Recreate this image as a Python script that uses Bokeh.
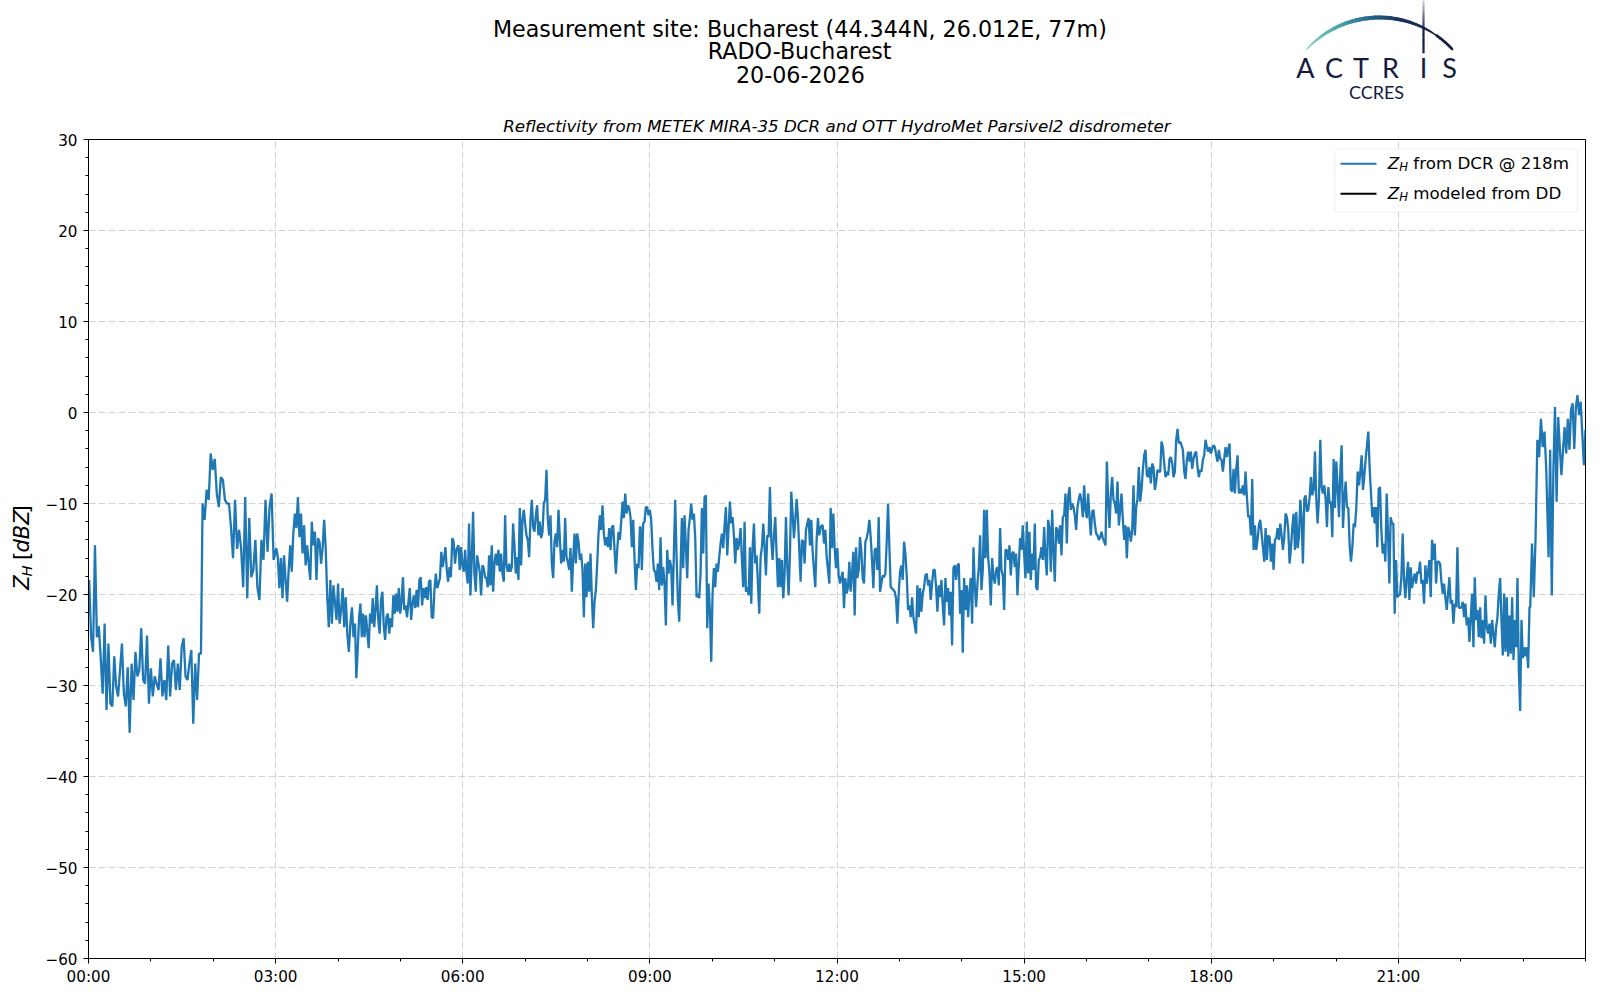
import math
import numpy as np
from bokeh.plotting import figure
from bokeh.models import Range1d, FixedTicker, Label, BoxAnnotation, Title
from bokeh.layouts import column, row
from bokeh.embed import file_html
from bokeh.resources import INLINE
from bokeh.core.properties import value

# ---------------- data (hours since 00:00 UTC, reflectivity dBZ) ----------------
# each block: (start hour, end hour), readings equally spaced inside the block
seg_a1_t = (0.011, 1.803)
seg_a1 = [-18.4, -24.7, -26.3, -14.6, -24.7, -23.5, -27.0, -30.9, -23.2, -32.7,
          -25.4, -32.0, -32.3, -26.8, -30.1, -31.2, -28.3, -25.4, -30.9, -32.3,
          -28.0, -35.2, -27.6, -31.6, -26.3, -29.0, -28.3, -23.7, -29.4, -29.8,
          -24.5, -32.0, -28.1, -31.2, -29.0, -29.8, -30.5, -27.0, -31.2, -29.4,
          -31.6, -25.6, -31.2, -27.6, -27.2, -30.5, -27.6, -30.5, -25.8, -24.8,
          -29.0, -29.4, -27.6, -26.1, -34.2, -27.6, -31.6, -26.5, -26.5]
seg_a2_t = (1.829, 2.968)
seg_a2 = [-10.0, -11.8, -8.5, -9.6, -4.5, -6.3, -5.1, -8.9, -10.4, -7.1,
          -7.4, -9.6, -10.0, -10.0, -12.6, -16.0, -9.6, -15.0, -12.9, -15.0,
          -19.2, -9.3, -20.4, -11.6, -18.1, -17.3, -14.0, -19.2, -20.6, -14.0,
          -16.2, -9.6, -15.3, -10.4, -8.9, -16.2]
seg_b1_t = (3.011, 4.273)
seg_b1 = [-14.9, -15.9, -19.3, -16.0, -20.4, -15.7, -18.4, -20.8, -17.3, -14.6,
          -17.5, -13.3, -11.1, -12.7, -9.3, -13.7, -11.1, -15.5, -12.4, -16.8,
          -14.6, -16.6, -18.4, -12.0, -14.6, -13.1, -18.4, -13.8, -14.2, -16.6,
          -14.9, -11.8, -14.9, -20.3, -23.6, -18.4, -23.2, -19.0, -20.8, -22.8,
          -18.8, -23.2, -21.7, -19.3, -23.6, -20.3, -24.3, -26.3, -23.2, -21.4,
          -24.7, -23.2]
seg_b2_t = (4.294, 5.898)
seg_b2 = [-29.2, -26.1, -22.5, -21.0, -24.7, -22.1, -24.7, -22.3, -24.1, -25.9,
          -22.1, -23.2, -20.4, -23.6, -21.7, -19.0, -22.8, -24.3, -20.6, -19.7,
          -23.4, -25.0, -22.5, -22.1, -24.3, -22.6, -23.6, -20.1, -22.1, -19.9,
          -21.9, -19.3, -22.1, -20.8, -18.1, -21.7, -21.2, -22.5, -20.8, -19.3,
          -22.8, -21.0, -20.1, -21.5, -19.5, -21.4, -18.4, -18.1, -21.2, -19.3,
          -20.4, -19.2, -20.6, -18.6, -18.4, -22.5, -22.6, -19.5, -17.7, -19.3,
          -18.8, -18.2, -15.3, -17.0, -16.0, -14.8, -17.3, -18.6, -17.0, -18.1,
          -13.8, -14.2, -16.6, -15.1]
seg_c_t = (5.909, 8.840)
seg_c = [-14.9, -14.6, -17.3, -14.8, -16.8, -17.5, -15.1, -17.5, -18.8, -12.2,
         -20.1, -16.2, -10.9, -17.7, -19.7, -15.7, -16.6, -17.5, -20.1, -16.8,
         -17.1, -18.1, -18.2, -19.2, -15.7, -19.0, -14.6, -19.7, -16.6, -15.5,
         -16.8, -15.1, -17.5, -15.5, -17.7, -18.6, -11.3, -16.8, -17.5, -16.6,
         -17.5, -17.0, -12.2, -14.6, -17.7, -15.9, -18.4, -10.5, -16.8, -11.8,
         -10.7, -12.2, -13.5, -14.0, -15.9, -11.8, -9.6, -12.6, -13.1, -11.3,
         -10.2, -13.5, -12.0, -13.8, -13.1, -10.0, -9.6, -6.3, -11.8, -13.5,
         -11.3, -16.6, -18.2, -14.2, -13.3, -14.8, -10.7, -13.8, -16.6, -15.1,
         -16.4, -11.6, -15.9, -16.4, -17.3, -14.9, -19.7, -16.2, -13.3, -16.6,
         -13.3, -14.2, -16.2, -15.5, -17.3, -22.5, -16.6, -20.3, -16.4, -19.7,
         -15.5, -20.3, -23.7, -20.8, -19.5, -16.6, -13.3, -11.3, -12.9, -10.2,
         -13.3, -14.6, -13.7, -14.8, -12.7, -15.1, -12.6, -12.4, -15.1, -17.7,
         -15.1, -13.1, -14.0, -12.0, -9.8, -11.6, -8.9, -11.1, -10.2, -10.5,
         -11.5, -14.8, -11.8, -16.2, -19.5, -16.6, -17.1, -12.6]
seg_d_t = (8.850, 11.759)
seg_d = [-12.6, -17.3, -12.2, -12.0, -10.4, -10.4, -11.3, -10.7, -11.8, -15.1,
         -17.3, -17.5, -18.6, -16.6, -19.5, -13.7, -19.0, -17.0, -18.8, -23.4,
         -15.1, -17.7, -16.2, -17.0, -21.2, -15.5, -9.6, -15.7, -20.6, -23.0,
         -17.3, -11.6, -17.1, -11.3, -14.6, -18.2, -12.9, -11.6, -10.0, -11.8,
         -11.1, -13.7, -20.3, -19.9, -20.4, -17.7, -10.5, -15.5, -9.3, -9.1,
         -23.7, -18.8, -21.7, -27.4, -19.9, -17.1, -19.2, -16.6, -17.5, -15.9,
         -14.4, -13.3, -14.9, -12.4, -10.4, -15.7, -12.7, -9.8, -12.2, -11.5,
         -13.5, -16.6, -13.8, -15.1, -14.2, -12.7, -16.2, -19.2, -12.0, -19.7,
         -19.2, -20.1, -14.8, -21.0, -14.9, -12.2, -16.6, -15.7, -18.8, -22.1,
         -15.9, -14.8, -12.2, -14.8, -17.9, -13.5, -13.7, -8.2, -14.0, -16.2,
         -13.5, -11.5, -15.5, -19.2, -16.0, -19.2, -16.2, -20.4, -17.7, -11.5,
         -16.8, -20.1, -15.5, -8.7, -11.1, -13.8, -11.8, -9.5, -11.6, -15.1,
         -18.6, -14.0, -14.2, -16.6, -12.9, -12.2, -11.6, -14.6, -11.8, -15.3,
         -17.3, -19.2, -14.0, -11.6, -13.5, -12.6, -12.4]
seg_e_t = (11.770, 14.701)
seg_e = [-12.4, -14.4, -12.9, -15.9, -17.3, -18.8, -10.5, -14.9, -11.1, -14.9,
         -17.1, -14.9, -17.9, -18.8, -18.1, -17.5, -21.5, -18.2, -19.9, -19.2,
         -16.4, -19.7, -17.7, -15.3, -22.3, -14.8, -18.2, -17.3, -13.7, -15.3,
         -18.2, -18.8, -14.2, -13.8, -13.1, -11.8, -13.7, -16.2, -19.3, -15.1,
         -14.9, -17.3, -11.5, -19.7, -18.8, -17.9, -18.1, -17.7, -14.2, -10.0,
         -14.8, -19.2, -19.3, -19.5, -19.7, -20.4, -23.2, -19.9, -17.5, -16.8,
         -18.4, -14.2, -15.5, -17.9, -21.7, -21.2, -22.5, -20.3, -22.5, -23.4,
         -24.3, -19.0, -22.5, -19.3, -21.9, -19.9, -19.2, -17.9, -17.7, -19.0,
         -18.4, -20.6, -18.8, -17.3, -17.3, -19.2, -21.9, -19.0, -20.3, -18.4,
         -21.2, -23.4, -18.2, -20.8, -19.3, -22.3, -19.7, -25.6, -17.1, -16.8,
         -18.4, -16.8, -16.6, -22.1, -19.5, -26.4, -18.2, -21.7, -19.0, -22.5,
         -19.7, -18.2, -23.2, -14.8, -19.0, -21.4, -18.8, -17.1, -13.5, -19.5,
         -17.3, -10.7, -16.0, -10.7, -15.9, -17.7, -21.2, -16.0, -18.1, -18.8,
         -17.3, -17.0, -19.0, -12.7, -17.3, -17.9, -21.7, -15.1]
seg_f_t = (14.722, 17.652)
seg_f = [-15.1, -16.2, -14.6, -17.9, -15.5, -15.3, -17.0, -15.5, -20.1, -16.8,
         -13.8, -15.1, -12.4, -15.5, -18.2, -12.0, -17.7, -13.1, -18.4, -15.5,
         -17.3, -12.2, -19.2, -19.5, -16.2, -15.9, -14.8, -16.2, -12.6, -15.9,
         -17.9, -11.8, -12.7, -17.5, -10.7, -15.1, -18.6, -12.6, -12.9, -14.4,
         -12.4, -15.7, -11.5, -11.3, -8.9, -14.4, -9.3, -8.2, -10.7, -10.0,
         -10.4, -11.3, -12.9, -10.4, -9.5, -8.9, -9.8, -11.5, -8.0, -10.7,
         -11.6, -8.9, -11.5, -13.5, -10.9, -10.7, -12.2, -13.3, -13.5, -14.0,
         -13.7, -13.1, -13.8, -14.2, -14.6, -5.4, -9.6, -12.7, -8.9, -7.1,
         -9.6, -10.0, -11.1, -7.6, -12.4, -10.7, -8.9, -11.8, -14.0, -12.4,
         -16.0, -12.6, -13.1, -14.2, -12.9, -8.0, -13.5, -10.4, -9.5, -6.0,
         -9.8, -8.5, -6.3, -4.7, -4.1, -6.9, -7.1, -6.0, -7.8, -5.6,
         -6.0, -8.5, -7.6, -6.3, -6.5, -6.5, -3.2, -3.8, -5.6, -7.1,
         -6.5, -6.9, -5.1, -4.9, -5.6, -7.1, -6.5, -3.0, -1.8, -3.4,
         -3.2, -3.6, -4.1, -6.5, -7.3, -5.2, -4.3, -5.4]
seg_g_t = (17.673, 20.604)
seg_g = [-4.3, -6.2, -5.1, -4.5, -4.3, -6.0, -7.1, -6.3, -6.5, -5.2,
         -4.7, -3.0, -3.8, -4.3, -3.8, -4.5, -4.0, -3.6, -3.8, -4.7,
         -5.4, -4.1, -5.1, -5.2, -6.5, -5.1, -3.8, -4.9, -4.0, -3.4,
         -8.5, -8.7, -6.2, -8.9, -6.2, -4.7, -8.9, -8.4, -8.9, -8.0,
         -9.1, -6.5, -9.3, -11.5, -11.3, -13.5, -7.3, -15.1, -12.4, -15.1,
         -14.0, -12.4, -11.8, -13.3, -14.8, -16.4, -12.7, -16.2, -13.5, -13.7,
         -16.4, -14.4, -17.3, -14.0, -13.8, -12.7, -14.0, -12.2, -13.5, -15.1,
         -13.7, -11.1, -11.5, -12.9, -16.6, -14.9, -12.7, -11.1, -15.1, -10.9,
         -14.9, -13.7, -9.6, -11.6, -16.6, -9.5, -9.1, -10.9, -10.7, -9.3,
         -7.1, -9.1, -8.5, -4.3, -9.5, -12.2, -9.5, -3.0, -8.2, -8.9,
         -8.0, -9.5, -12.6, -8.2, -10.0, -9.8, -13.7, -5.1, -10.5, -5.4,
         -8.2, -11.5, -6.5, -3.6, -12.7, -9.5, -7.6, -10.4, -10.5, -14.6,
         -16.4, -14.8, -12.2, -12.6, -10.4, -6.5, -8.0, -6.5, -4.7, -8.5,
         -6.9, -5.1, -3.6, -2.1, -6.2, -8.9, -11.5, -10.4]
seg_h_t = (20.620, 23.102)
seg_h = [-12.2, -10.4, -14.8, -8.4, -8.2, -12.9, -15.5, -14.4, -16.4, -8.9,
         -13.3, -18.8, -11.5, -12.2, -12.2, -22.1, -16.2, -20.3, -20.1, -20.0,
         -18.1, -13.3, -18.4, -20.4, -18.1, -16.4, -20.6, -17.0, -19.3, -18.4,
         -17.7, -18.8, -17.5, -17.7, -16.4, -18.8, -18.4, -21.0, -16.8, -18.8,
         -17.5, -16.2, -20.3, -14.0, -16.2, -14.4, -18.8, -16.4, -16.4, -16.6,
         -18.6, -19.9, -18.8, -20.4, -21.7, -19.9, -18.1, -21.0, -20.6, -23.2,
         -21.0, -21.4, -14.8, -21.4, -21.5, -21.4, -20.8, -22.5, -21.0, -23.4,
         -22.5, -25.2, -22.5, -19.9, -25.8, -18.1, -22.8, -21.7, -24.7, -21.4,
         -24.8, -22.8, -25.4, -20.1, -23.6, -24.3, -23.2, -25.4, -22.8, -24.3,
         -25.8, -23.6, -22.5, -19.9, -18.2, -22.8, -26.7, -19.9, -26.3, -20.3,
         -26.8, -22.3, -26.5, -20.3, -27.2, -22.8, -25.8, -18.2, -28.1, -32.8,
         -22.8, -27.0, -25.8, -26.8, -25.8, -28.1, -21.4]
seg_i1_t = (23.114, 23.371)
seg_i1 = [-21.4, -14.4, -20.3, -13.7, -3.0, -4.9, -0.7, -3.8, -2.1, -6.3]
seg_i2_t = (23.408, 24.0)
seg_i2 = [-15.9, -4.1, -20.1, -6.3, 0.6, -9.8, -0.5, -3.8, -6.9, -4.1,
          -1.6, -4.5, -0.7, -4.1, 0.3, 1.0, -4.0, 0.6, 1.9, -0.3,
          1.2, -2.3, -5.8, -1.9]

x_ticks = [0, 3, 6, 9, 12, 15, 18, 21]
x_labels = ["00:00", "03:00", "06:00", "09:00", "12:00", "15:00", "18:00", "21:00"]
y_ticks = [-60, -50, -40, -30, -20, -10, 0, 10, 20, 30]
y_labels = ["\u221260", "\u221250", "\u221240", "\u221230", "\u221220", "\u221210", "0", "10", "20", "30"]

title_lines = ["Measurement site: Bucharest (44.344N, 26.012E, 77m)", "RADO-Bucharest", "20-06-2026"]
subtitle = "Reflectivity from METEK MIRA-35 DCR and OTT HydroMet Parsivel2 disdrometer"
legend_labels = ["from DCR @ 218m", "modeled from DD"]

blocks = [(seg_a1_t, seg_a1), (seg_a2_t, seg_a2), (seg_b1_t, seg_b1), (seg_b2_t, seg_b2),
          (seg_c_t, seg_c), (seg_d_t, seg_d), (seg_e_t, seg_e), (seg_f_t, seg_f),
          (seg_g_t, seg_g), (seg_h_t, seg_h), (seg_i1_t, seg_i1), (seg_i2_t, seg_i2)]
t = np.concatenate([np.linspace(a, b, len(v)) for (a, b), v in blocks])
z = np.concatenate([np.asarray(v, dtype=float) for _, v in blocks])

FONT = "DejaVu Sans"
BLUE = "#1f77b4"
NAVY = "#151b40"

# page geometry
W = 1592
H1 = 104          # header strip
LW = 40           # strip left of the plot for the rotated axis label
HM = 886          # plot row height

# ---------------- header figure (titles + logo), data units = page pixels ----------------
top = figure(width=W, height=H1, x_range=Range1d(0, W), y_range=Range1d(H1, 0),
             output_backend="svg", toolbar_location=None,
             x_axis_location=None, y_axis_location=None, min_border=0,
             outline_line_color=None)
top.grid.visible = False
top.text(x=[492.4, 707.3, 735.5], y=[28.2, 50.3, 73.8], text=title_lines,
         text_align="left", text_baseline="alphabetic",
         text_font=value(FONT), text_font_size=value("22.2px"), text_color="black")

def _rgb(h):
    return np.array([int(h[i:i + 2], 16) for i in (1, 3, 5)], dtype=float)

stops = [(0.0, "#8ad6cb"), (0.25, "#4ba7ab"), (0.45, "#22688a"), (0.62, "#1b3560"), (1.0, NAVY)]

def _col(u):
    for (u0, c0), (u1, c1) in zip(stops[:-1], stops[1:]):
        if u <= u1:
            f = (u - u0) / (u1 - u0)
            c = _rgb(c0) * (1 - f) + _rgb(c1) * f
            return "#%02x%02x%02x" % tuple(int(round(k)) for k in c)
    return NAVY

cx, cy, r = 1379.0, 116.3, 99.3
a0, a1 = math.radians(137), math.radians(43)
n = 70
xs, ys, cols, wids = [], [], [], []
for i in range(n):
    u0, u1 = i / n, (i + 1) / n
    b0, b1 = a0 + (a1 - a0) * u0, a0 + (a1 - a0) * u1
    xs.append([cx + r * math.cos(b0), cx + r * math.cos(b1)])
    ys.append([cy - r * math.sin(b0), cy - r * math.sin(b1)])
    um = (u0 + u1) / 2
    cols.append(_col(um))
    wids.append(1.0 + 3.0 * math.sin(math.pi * min(1.0, um * 1.15)) ** 0.7 if um < 0.87 else 2.6)
top.multi_line(xs=xs, ys=ys, line_color=cols, line_width=wids, line_cap="round")

vx, vys, vals = [], [], []
for i in range(21):
    y0 = -2 + i * 2.6
    vx.append([1423, 1423])
    vys.append([y0, y0 + 2.8])
    vals.append(min(1.0, 0.15 + i * 0.07))
top.multi_line(xs=vx, ys=vys, line_color=NAVY, line_alpha=vals, line_width=2.2)

for ch, lx in zip("ACTRIS", [1305, 1333.5, 1360.5, 1390, 1423, 1449]):
    top.text(x=[lx], y=[66.7], text=[ch], text_align="center", text_baseline="alphabetic",
             text_font=value("Lato"), text_font_size=value("27px"), text_color=NAVY)
top.text(x=[1376], y=[91.5], text=["CCRES"], text_align="center", text_baseline="alphabetic",
         text_font=value("Lato"), text_font_size=value("18px"), text_color=NAVY)

# ---------------- left strip: rotated y axis label  Z_H [dBZ] ----------------
lab = figure(width=LW, height=HM, x_range=Range1d(0, LW), y_range=Range1d(H1 + HM, H1),
             output_backend="svg", toolbar_location=None,
             x_axis_location=None, y_axis_location=None, min_border=0,
             outline_line_color=None)
lab.grid.visible = False
bx, by = 21.7, 591.2
for txt, along, dx, size, style in [("Z", 0.0, 0.0, 21.0, "italic"), ("H", 14.4, 4.3, 14.7, "italic"),
                                     ("[", 32.2, 0.0, 21.0, "normal"), ("dBZ", 40.4, 0.0, 21.0, "italic"),
                                     ("]", 82.5, 0.0, 21.0, "normal")]:
    lab.text(x=[bx + dx], y=[by - along], text=[txt], angle=math.pi / 2,
             text_align="left", text_baseline="alphabetic",
             text_font=value(FONT), text_font_size=value("%.1fpx" % size),
             text_font_style=style, text_color="black")

# ---------------- main figure ----------------
p = figure(width=W - LW, height=HM, x_range=Range1d(0, 24), y_range=Range1d(-60, 30),
           output_backend="svg", toolbar_location=None,
           min_border_left=48, min_border_right=7, min_border_top=35, min_border_bottom=32)
p.title = Title(text=subtitle, align="left", offset=414.7, standoff=8,
                text_font=FONT, text_font_size="16.7px", text_font_style="italic",
                text_color="black")
p.outline_line_color = "black"
p.outline_line_width = 1
p.background_fill_color = "white"

p.line(t, z, line_color=BLUE, line_width=2.3)

p.xaxis.ticker = FixedTicker(ticks=x_ticks, minor_ticks=list(range(0, 25)))
p.xaxis.major_label_overrides = {k: v for k, v in zip(x_ticks, x_labels)}
p.yaxis.ticker = FixedTicker(ticks=y_ticks, minor_ticks=list(range(-60, 31, 2)))
p.yaxis.major_label_overrides = {k: v for k, v in zip(y_ticks, y_labels)}
for ax in (p.xaxis, p.yaxis):
    ax.axis_line_color = "black"
    ax.axis_line_width = 1
    ax.major_tick_in = 0
    ax.major_tick_out = 5
    ax.minor_tick_in = 0
    ax.minor_tick_out = 3
    ax.major_tick_line_color = "black"
    ax.minor_tick_line_color = "black"
    ax.major_label_text_font = FONT
    ax.major_label_text_font_size = "15.2px"
    ax.major_label_text_color = "black"
p.xaxis.major_label_standoff = 4
p.yaxis.major_label_standoff = 6
p.grid.grid_line_color = "#d3d3d3"
p.grid.grid_line_dash = "7 3"
p.grid.grid_line_width = 1

# legend (manual, so that the subscript can be shown); frame-relative pixels
p.add_layout(BoxAnnotation(left=1246.3, right=1489.0, bottom=746.3, top=809.7,
                           left_units="screen", right_units="screen",
                           bottom_units="screen", top_units="screen",
                           fill_color="white", fill_alpha=0.8, line_color="#cccccc",
                           line_width=1, border_radius=4))
for base, col, txt in [(788.7, BLUE, legend_labels[0]), (758.7, "black", legend_labels[1])]:
    mid = base + 6.0
    p.add_layout(BoxAnnotation(left=1252, right=1288, bottom=mid - 1.05, top=mid + 1.05,
                               left_units="screen", right_units="screen",
                               bottom_units="screen", top_units="screen",
                               fill_color=col, fill_alpha=1.0, line_alpha=0))
    tb = base + 6.5
    p.add_layout(Label(x=1299.3, y=tb, x_units="screen", y_units="screen", text="Z",
                       text_font=FONT, text_font_size="16.7px", text_font_style="italic",
                       text_baseline="alphabetic", text_color="black"))
    p.add_layout(Label(x=1310.7, y=tb - 3.6, x_units="screen", y_units="screen", text="H",
                       text_font=FONT, text_font_size="11.7px", text_font_style="italic",
                       text_baseline="alphabetic", text_color="black"))
    p.add_layout(Label(x=1324.8, y=tb, x_units="screen", y_units="screen", text=txt,
                       text_font=FONT, text_font_size="16.7px",
                       text_baseline="alphabetic", text_color="black"))

layout = column(top, row(lab, p, spacing=0), spacing=0)
open("out.html", "w").write(file_html(layout, INLINE))
